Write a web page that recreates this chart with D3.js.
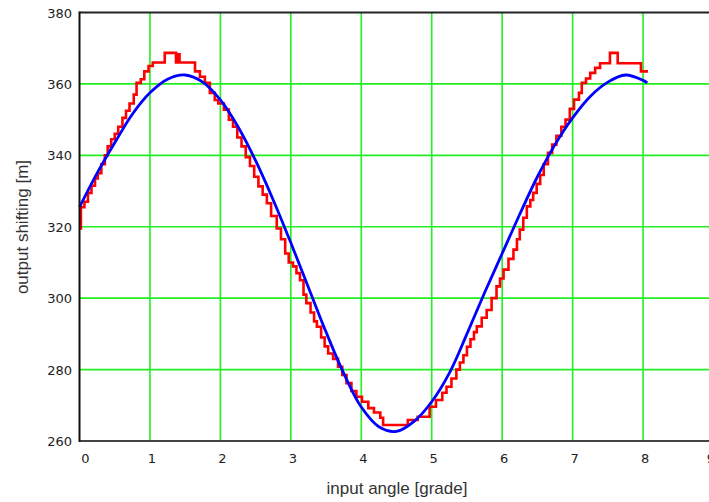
<!DOCTYPE html>
<html>
<head>
<meta charset="utf-8">
<script src="https://cdn.jsdelivr.net/npm/d3@7"></script>
<style>
  body { margin: 0; background: #fff; }
  svg { display: block; }
</style>
</head>
<body>
<div id="chart"></div>
<script>
// values
var xTicks = [0, 1, 2, 3, 4, 5, 6, 7, 8, 9];
var yTicks = [260, 280, 300, 320, 340, 360, 380];

// blue: smooth model curve
var blueX = [0, 0.25, 0.5, 0.75, 1, 1.25, 1.5, 1.75, 2, 2.25, 2.5, 2.75, 3, 3.25, 3.5, 3.75, 4, 4.25, 4.5, 4.75,
             5, 5.25, 5.5, 5.75, 6, 6.25, 6.5, 6.75, 7, 7.25, 7.5, 7.75, 8, 8.06];
var blueY = [325.5, 335, 343.5, 351.5, 357.5, 361.3, 362.5, 360.5, 355.5, 348, 338.5, 327.5, 315.5, 303, 290.5, 279, 269.5, 264, 262.7, 265.5,
             271, 279, 290, 301.5, 312.5, 323.5, 334, 343, 350.5, 356.5, 360.5, 362.5, 361, 360.3];

// red: measured staircase
var redX = [0, 0.02, 0.07, 0.12, 0.17, 0.22, 0.26, 0.31, 0.36, 0.40, 0.45, 0.50, 0.55, 0.61, 0.66, 0.71, 0.77, 0.81, 0.87, 0.92,
            0.98, 1.04, 1.21, 1.37, 1.39, 1.42, 1.64, 1.71, 1.78, 1.85, 1.92, 1.97, 2.05, 2.12, 2.18, 2.24, 2.30, 2.36, 2.42, 2.48,
            2.54, 2.60, 2.66, 2.72, 2.80, 2.86, 2.92, 2.97, 3.03, 3.08, 3.13, 3.18, 3.22, 3.28, 3.33, 3.37, 3.43, 3.48, 3.53, 3.60,
            3.67, 3.73, 3.79, 3.86, 3.93, 4.01, 4.10, 4.18, 4.27, 4.31, 4.66, 4.80, 4.97, 5.06, 5.15, 5.21, 5.28, 5.35, 5.40, 5.45,
            5.50, 5.55, 5.60, 5.64, 5.71, 5.78, 5.85, 5.92, 5.97, 6.02, 6.09, 6.16, 6.21, 6.25, 6.30, 6.35, 6.40, 6.44, 6.49, 6.54,
            6.59, 6.65, 6.71, 6.77, 6.84, 6.90, 6.96, 7.02, 7.09, 7.13, 7.19, 7.25, 7.32, 7.39, 7.53, 7.64, 7.97, 8.07];
var redY = [319.5, 325.5, 327, 329.5, 331.5, 333.5, 335, 337.5, 340, 342.5, 344.5, 346, 348, 350.5, 352.5, 354.5, 357, 360.3, 361.3, 363.5,
            365, 366, 368.7, 366, 368.3, 366, 363.5, 362, 360.3, 357.5, 355.5, 354.5, 352.8, 350, 348, 345, 342.5, 339.5, 337, 334,
            331.3, 329, 326.6, 323, 319.5, 316.5, 312.5, 310, 308.9, 307, 305, 301, 298.6, 296, 293.5, 292, 289, 286.5, 284.5, 283,
            280.8, 278.5, 276.2, 274, 272.4, 271, 269.2, 268, 266.5, 264.5, 265.9, 266.8, 269.6, 271.5, 273.5, 275.2, 277.5, 280, 282, 284,
            286.4, 288.5, 290.5, 292.1, 294.5, 296.7, 300, 303.3, 305.5, 308, 311, 313.6, 316.5, 319.2, 322.5, 325.7, 327.5, 329.5, 332, 334.5,
            337.5, 340.7, 343, 345.5, 348, 350, 353, 355.6, 357.5, 360.3, 361.5, 363.1, 364.5, 365.8, 368.7, 365.8, 363.5, 363.5];

var width = 709, height = 502;
var plotL = 79.5, plotR = 713.5, plotT = 12.5, plotB = 441;

var svg = d3.select("#chart").append("svg")
    .attr("width", width)
    .attr("height", height);

var x = d3.scaleLinear().domain([0, 9]).range([plotL, plotR]);
var y = d3.scaleLinear().domain([260, 380]).range([plotB, plotT]);

// grid
svg.selectAll(".vgrid")
    .data(xTicks.filter(function(d) { return d > 0; }))
    .enter().append("line")
    .attr("x1", function(d) { return x(d); })
    .attr("x2", function(d) { return x(d); })
    .attr("y1", plotT)
    .attr("y2", plotB)
    .style("stroke", "#22ee22")
    .style("stroke-width", 1.6);

svg.selectAll(".hgrid")
    .data(yTicks.filter(function(d) { return d > 260 && d < 380; }))
    .enter().append("line")
    .attr("x1", plotL)
    .attr("x2", plotR)
    .attr("y1", function(d) { return y(d); })
    .attr("y2", function(d) { return y(d); })
    .style("stroke", "#22ee22")
    .style("stroke-width", 1.6);

// series
var red = redX.map(function(d, i) { return [d, redY[i]]; });
var blue = blueX.map(function(d, i) { return [d, blueY[i]]; });

svg.append("path")
    .datum(red)
    .attr("d", d3.line()
        .x(function(d) { return x(d[0]); })
        .y(function(d) { return y(d[1]); })
        .curve(d3.curveStepAfter))
    .style("fill", "none")
    .style("stroke", "#ff0000")
    .style("stroke-width", 2.6);

svg.append("path")
    .datum(blue)
    .attr("d", d3.line()
        .x(function(d) { return x(d[0]); })
        .y(function(d) { return y(d[1]); })
        .curve(d3.curveCatmullRom))
    .style("fill", "none")
    .style("stroke", "#0000ff")
    .style("stroke-width", 2.8);

// frame
svg.append("line").attr("x1", plotL).attr("x2", width).attr("y1", plotT).attr("y2", plotT)
    .style("stroke", "#222").style("stroke-width", 2);
svg.append("line").attr("x1", plotL).attr("x2", width).attr("y1", plotB).attr("y2", plotB)
    .style("stroke", "#444").style("stroke-width", 2);
svg.append("line").attr("x1", plotL).attr("x2", plotL).attr("y1", plotT - 1).attr("y2", plotB + 1)
    .style("stroke", "#111").style("stroke-width", 2);

// tick labels
svg.selectAll(".ylab")
    .data(yTicks)
    .enter().append("text")
    .attr("x", 72)
    .attr("y", function(d) { return y(d) + 5; })
    .attr("text-anchor", "end")
    .text(function(d) { return d; })
    .style("font-family", "DejaVu Sans, sans-serif")
    .style("font-size", "13px")
    .style("fill", "#222");

svg.selectAll(".xlab")
    .data(xTicks)
    .enter().append("text")
    .attr("x", function(d) { return d === 0 ? x(d) + 6 : Math.min(x(d) + 2, 711); })
    .attr("y", 463)
    .attr("text-anchor", "middle")
    .text(function(d) { return d; })
    .style("font-family", "DejaVu Sans, sans-serif")
    .style("font-size", "13px")
    .style("fill", "#222");

// axis titles
svg.append("text")
    .attr("x", 397)
    .attr("y", 494)
    .attr("text-anchor", "middle")
    .text("input angle [grade]")
    .style("font-family", "Liberation Sans, Arial, sans-serif")
    .style("font-size", "17px")
    .style("fill", "#333");

svg.append("text")
    .attr("transform", "translate(28,227) rotate(-90)")
    .attr("text-anchor", "middle")
    .text("output shifting [m]")
    .style("font-family", "Liberation Sans, Arial, sans-serif")
    .style("font-size", "17px")
    .style("fill", "#333");
</script>
</body>
</html>
